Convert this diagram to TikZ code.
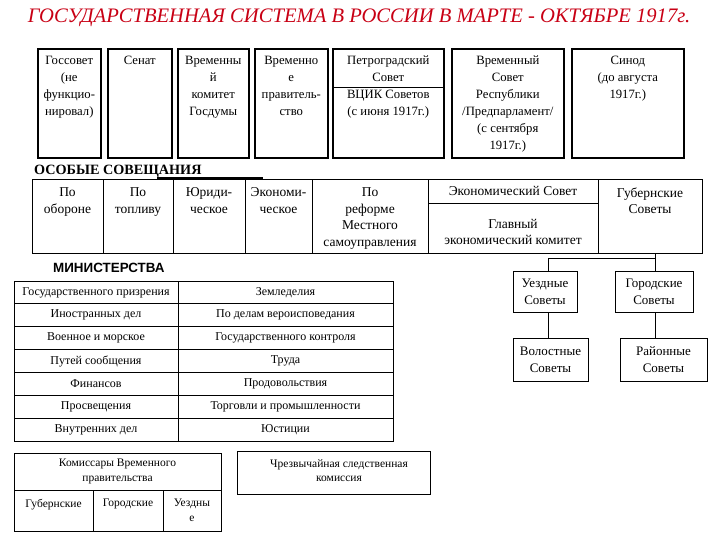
\documentclass[tikz,border=0pt]{standalone}
\usepackage{fontspec}
\setmainfont{Liberation Serif}
\newfontfamily\sansfnt{Liberation Sans}
\definecolor{titlered}{RGB}{200,0,20}
\begin{document}
\begin{tikzpicture}[x=1pt,y=-1pt,
  topbox/.style={draw,line width=1.6pt,inner sep=0pt,anchor=north west,minimum height=109},
  toptext/.style={inner sep=0pt,anchor=north,align=center,font=\fontsize{12.7}{17}\selectfont},
  ocell/.style={draw,line width=0.8pt,inner sep=0pt},
  otext/.style={inner sep=0pt,anchor=north,align=center,font=\fontsize{13.5}{16.5}\selectfont},
  mcell/.style={draw,line width=0.8pt,inner sep=0pt,font=\fontsize{12}{14}\selectfont},
  sbox/.style={draw,line width=0.8pt,inner sep=0pt,align=center,font=\fontsize{13}{17}\selectfont},
  ktext/.style={inner sep=0pt,align=center,font=\fontsize{11.5}{15}\selectfont},
  conn/.style={line width=0.8pt}]
\useasboundingbox (0,0) rectangle (720,540);
% title
\node[text=titlered,font=\fontsize{20.6}{24}\selectfont\itshape] (title) at (359,17.5) {ГОСУДАРСТВЕННАЯ СИСТЕМА В РОССИИ В МАРТЕ - ОКТЯБРЕ 1917г.};
% top boxes
\node[topbox,minimum width=63] (b1) at (37,48) {};
\node[topbox,minimum width=64] (b2) at (107,48) {};
\node[topbox,minimum width=71] (b3) at (177,48) {};
\node[topbox,minimum width=73] (b4) at (254,48) {};
\node[topbox,minimum width=111] (b5) at (332,48) {};
\node[topbox,minimum width=112] (b6) at (451,48) {};
\node[topbox,minimum width=112] (b7) at (571,48) {};
\node[toptext] (t1) at ([yshift=-8pt]b1.north) {Госсовет\\(не\\функцио-\\нировал)};
\node[toptext] (t2) at ([yshift=-8pt]b2.north) {Сенат};
\node[toptext] (t3) at ([yshift=-8pt]b3.north) {Временны\\й\\комитет\\Госдумы};
\node[toptext] (t4) at ([yshift=-8pt]b4.north) {Временно\\е\\правитель-\\ство};
\node[toptext] (t5) at ([yshift=-8pt]b5.north) {Петроградский\\Совет\\ВЦИК Советов\\(с июня 1917г.)};
\node[toptext] (t6) at ([yshift=-8pt]b6.north) {Временный\\Совет\\Республики\\/Предпарламент/\\(с сентября\\1917г.)};
\node[toptext] (t7) at ([yshift=-8pt]b7.north) {Синод\\(до августа\\1917г.)};
\draw[line width=1pt] (b5.west |- 0,88) -- (b5.east |- 0,88);
% special councils
\node[anchor=west,inner sep=0pt,font=\fontsize{14.2}{16}\selectfont\bfseries] (osh) at (34,171) {ОСОБЫЕ СОВЕЩАНИЯ};
\node[ocell,minimum width=71,minimum height=74] (o1) at (67.5,216) {};
\node[ocell,minimum width=70,minimum height=74] (o2) at (138,216) {};
\node[ocell,minimum width=72,minimum height=74] (o3) at (209,216) {};
\node[ocell,minimum width=67,minimum height=74] (o4) at (278.5,216) {};
\node[ocell,minimum width=116,minimum height=74] (o5) at (370,216) {};
\node[ocell,minimum width=170,minimum height=24,font=\fontsize{13.5}{16.5}\selectfont] (o6a) at (513,191) {Экономический Совет};
\node[ocell,minimum width=170,minimum height=50] (o6b) at (513,228) {};
\node[ocell,minimum width=104,minimum height=74] (o7) at (650,216) {};
\draw[line width=1.4pt] (157,178) -- (263,178);
\node[otext] (ot1) at ([yshift=-9pt]o1.north) {По\\обороне};
\node[otext] (ot2) at ([yshift=-9pt]o2.north) {По\\топливу};
\node[otext] (ot3) at ([yshift=-9pt]o3.north) {Юриди-\\ческое};
\node[otext] (ot4) at ([yshift=-9pt]o4.north) {Экономи-\\ческое};
\node[otext] (ot5) at ([yshift=-9pt]o5.north) {По\\реформе\\Местного\\самоуправления};
\node[otext,anchor=center] (ot6) at (513,232) {Главный\\экономический комитет};
\node[otext] (ot7) at ([yshift=-9pt]o7.north) {Губернские\\Советы};
% soviets hierarchy
\node[sbox,minimum width=64,minimum height=41] (uezd) at (545,291.5) {Уездные\\Советы};
\node[sbox,minimum width=78,minimum height=41] (gor) at (654,291.5) {Городские\\Советы};
\node[sbox,minimum width=75,minimum height=43] (vol) at (550.5,359.5) {Волостные\\Советы};
\node[sbox,minimum width=87,minimum height=43] (rai) at (663.5,359.5) {Районные\\Советы};
\coordinate (cl) at (548,258);
\coordinate (cr) at (655,258);
\draw[conn] (o7.south -| cr) -- (gor.north -| cr);
\draw[conn] (cr) -- (cl) -- (uezd.north -| cl);
\draw[conn] (uezd.south -| cl) -- (vol.north -| cl);
\draw[conn] (gor.south -| cr) -- (rai.north -| cr);
% ministries
\node[anchor=west,inner sep=0pt,font=\sansfnt\bfseries\fontsize{13.4}{15}\selectfont] (minh) at (53,268) {МИНИСТЕРСТВА};
\foreach [count=\i] \t in {Государственного призрения,Иностранных дел,Военное и морское,Путей сообщения,Финансов,Просвещения,Внутренних дел}
  \node[mcell,minimum width=164,minimum height=22.86] (ml\i) at (96,{281+22.86*(\i-0.5)}) {\t};
\foreach [count=\i] \t in {Земледелия,По делам вероисповедания,Государственного контроля,Труда,Продовольствия,Торговли и промышленности,Юстиции}
  \node[mcell,minimum width=215,minimum height=22.86] (mr\i) at (285.5,{281+22.86*(\i-0.5)}) {\t};
% commissars
\node[ocell,minimum width=207,minimum height=37] (k0) at (117.5,471.5) {};
\node[ktext] (kt0) at (k0.center) {Комиссары Временного\\правительства};
\node[ocell,minimum width=79,minimum height=41] (k1) at (53.5,510.5) {};
\node[ocell,minimum width=70,minimum height=41] (k2) at (128,510.5) {};
\node[ocell,minimum width=58,minimum height=41] (k3) at (192,510.5) {};
\node[ktext,anchor=north] (kt1) at ([yshift=-9pt]k1.north) {Губернские};
\node[ktext,anchor=north] (kt2) at ([yshift=-9pt]k2.north) {Городские};
\node[ktext,anchor=north] (kt3) at ([yshift=-9pt]k3.north) {Уездны\\е};
% extraordinary commission
\node[ocell,minimum width=193,minimum height=43] (ch) at (333.5,472.5) {};
\node[ktext,font=\fontsize{11.5}{13.5}\selectfont] (cht) at (339,470.5) {Чрезвычайная следственная\\комиссия};
\end{tikzpicture}
\end{document}
